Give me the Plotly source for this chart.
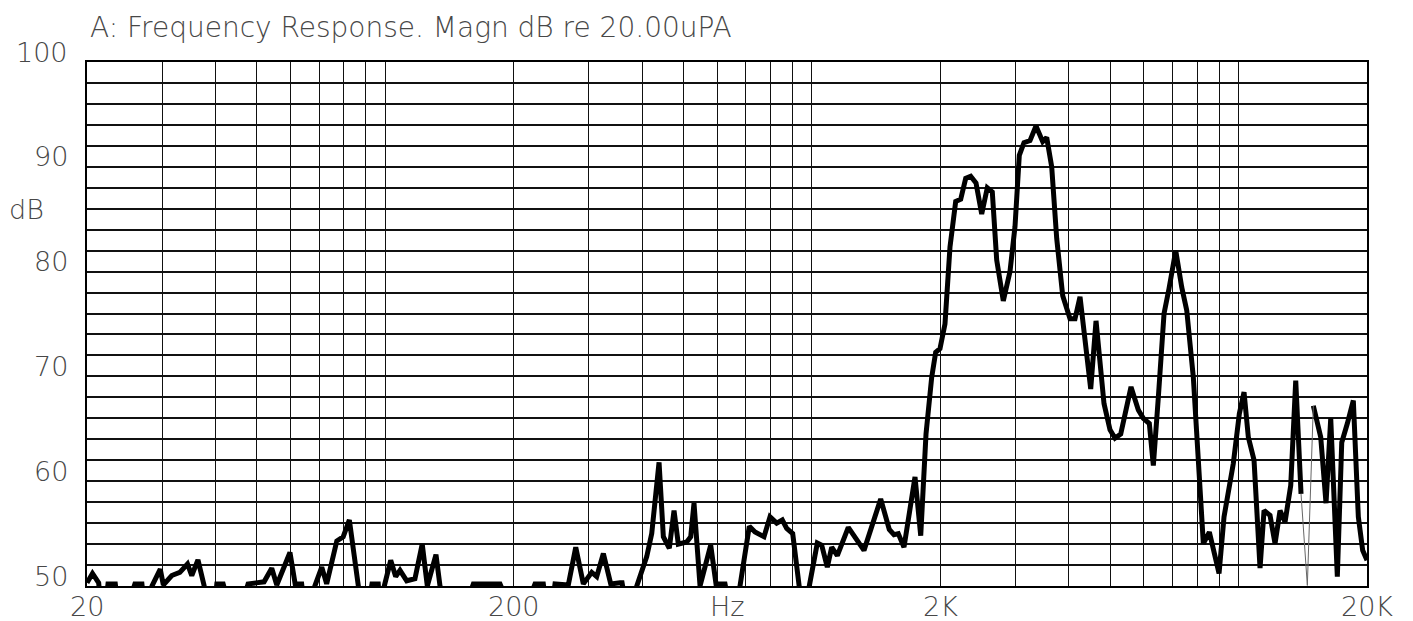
import math
import plotly.graph_objects as go

# Frequency (Hz) and level (dB re 20 uPa).
# Values below 50 dB fall outside the plotted range (as in the original plot).
freq_hz = [
    20.0, 20.6, 21.3, 21.8, 22.4, 23.3, 24.0, 25.9, 26.9, 27.6, 28.4, 29.7, 30.2, 31.6,
    33.0, 34.4, 35.2, 36.4, 37.6, 39.3, 40.3, 41.7, 44.5, 47.7, 49.8, 52.0, 54.2, 55.7,
    59.8, 61.5, 63.7, 65.5, 68.4, 71.0, 72.9, 77.0, 79.7, 82.4, 86.5, 89.5, 93.1, 96.3,
    97.8, 99.5, 103.0, 105.8, 108.3, 112.3, 117.4, 122.1, 125.5, 131.5, 134.4, 148.0,
    160.9, 172.3, 185.8, 205.0, 224.4, 234.7, 242.0, 250.0, 263.9, 268.6, 279.6, 291.3,
    304.8, 313.1, 324.5, 337.7, 355.1, 359.0, 375.0, 388.6, 410.1, 421.3, 438.3, 448.6,
    463.3, 475.2, 486.3, 508.9, 520.0, 529.3, 546.8, 579.2, 596.0, 625.7, 655.0, 678.4,
    713.3, 735.6, 772.3, 797.7, 827.0, 852.4, 872.9, 901.6, 937.9, 960.0, 986.1, 1029.7,
    1054.4, 1086.7, 1112.8, 1147.0, 1217.0, 1324.7, 1449.6, 1518.4, 1557.5, 1594.0,
    1643.8, 1744.5, 1799.1, 1851.2, 1908.6, 1950.3, 1996.2, 2050.8, 2107.0, 2172.8,
    2232.4, 2293.4, 2356.2, 2424.6, 2500.2, 2577.0, 2647.5, 2711.0, 2809.3, 2912.6,
    2992.4, 3062.6, 3141.2, 3244.8, 3351.6, 3475.0, 3550.8, 3648.0, 3748.0, 3871.4,
    4027.0, 4137.2, 4250.4, 4503.0, 4633.6, 4837.8, 4997.2, 5134.0, 5294.4, 5597.2,
    5822.0, 5981.4, 6178.4, 6313.0, 6485.8, 6688.8, 6872.0, 7124.8, 7359.4, 7560.6,
    7834.4, 8269.0, 8541.2, 9000.0, 9245.8, 9721.8, 10042, 10300, 10541, 10871, 11229,
    11474, 11851, 12175, 12508, 12850, 13252, 13614, 14009, None, 14971, 15581, 16033,
    16445, 17041, 17451, 17986, 18578, 19086, 19538, 20000,
]
level_db = [
    50.3, 51.2, 50.3, 46.0, 50.2, 50.2, 46.0, 50.2, 50.2, 46.0, 50.0, 51.6, 50.1, 51.0,
    51.3, 52.1, 51.0, 52.5, 50.1, 46.0, 50.2, 50.2, 46.0, 50.2, 50.3, 50.4, 51.7, 50.1,
    53.2, 50.2, 50.2, 46.0, 50.0, 51.8, 50.2, 54.3, 54.7, 56.3, 50.0, 46.0, 50.2, 50.2,
    46.0, 50.0, 52.45, 50.9, 51.5, 50.5, 50.7, 54.0, 50.0, 53.0, 50.0, 46.0,
    50.2, 50.2, 50.2, 46.0, 50.2, 50.2, 46.0, 50.2, 50.2, 50.1, 53.7, 50.2,
    51.3, 50.9, 53.1, 50.2, 50.3, 50.3, 46.0, 50.0, 52.8, 55.0, 61.8, 54.7,
    53.6, 57.2, 54.0, 54.2, 54.7, 57.9, 50.0, 53.9, 50.2, 50.2, 46.0, 50.0,
    55.7, 55.15, 54.7, 56.6, 56.0, 56.3, 55.5, 55.0, 50.0, 46.0, 50.0, 54.1,
    53.9, 51.8, 53.7, 52.9, 55.6, 53.4, 58.3, 55.4, 54.9, 55.0,
    53.7, 60.4, 54.8, 64.5, 69.9, 72.3, 72.65, 75.0, 82.35, 86.7,
    86.9, 88.9, 89.1, 88.45, 85.5, 88.0, 87.6, 81.1, 77.2, 80.0,
    84.3, 91.1, 92.3, 92.5, 93.9, 92.4, 92.8, 90.0, 83.15, 77.7,
    75.5, 75.5, 77.6, 68.8, 75.3, 67.4, 64.9, 64.1, 64.5, 69.0,
    66.8, 66.0, 65.5, 61.5, 68.0, 76.0, 78.4, 82.0, 78.5, 76.3,
    69.9, 54.05, 55.15, 51.2, 56.6, 61.7, 66.45, 68.5, 64.2, 62.0, 51.7,
    57.2, 56.75, 54.05, 57.2, 56.1, 59.6, 69.6, 58.8, None, 67.2, 64.2, 57.9,
    66.0, 50.9, 63.7, 65.5, 67.7, 56.6, 53.4, 52.45,
]

# thin (dropout) segment
dropout_hz = [14009, 14494, 14971]
dropout_db = [58.8, 50.05, 67.2]

# grid / tick definitions
f_min, f_max = 20, 20000
grid_freqs = [20, 30, 40, 50, 60, 70, 80, 90, 100,
              200, 300, 400, 500, 600, 700, 800, 900, 1000,
              2000, 3000, 4000, 5000, 6000, 7000, 8000, 9000, 10000, 20000]
freq_label_vals = [20, 200, 2000, 20000]
freq_label_text = ["20", "200", "2K", "20K"]
db_grid = list(range(50, 101, 2))
db_label_vals = [50, 60, 70, 80, 90, 100]
db_label_text = ["50", "60", "70", "80", "90", "100"]

title_text = "A: Frequency Response. Magn dB re 20.00uPA"
x_unit = "Hz"
x_unit_pos = 632
y_unit = "dB"

FONT = "DejaVu Sans"
TXT = "#474747"
W = 300

lo, hi = math.log10(f_min), math.log10(f_max)


def xfrac(f):
    """position of a frequency along the log axis, as a fraction of its length"""
    return (math.log10(f) - lo) / (hi - lo)


fig = go.Figure()
fig.add_trace(go.Scatter(
    x=freq_hz, y=level_db, mode="lines", connectgaps=False,
    line=dict(color="black", width=5), hoverinfo="skip", showlegend=False,
))
fig.add_trace(go.Scatter(
    x=dropout_hz, y=dropout_db, mode="lines",
    line=dict(color="#666666", width=1), hoverinfo="skip", showlegend=False,
))

annotations = [
    dict(text=title_text, xref="paper", yref="paper", x=0.0005, y=1.0,
         xanchor="left", yanchor="middle", yshift=35, showarrow=False,
         font=dict(family=FONT, size=28, color=TXT, weight=W)),
    dict(text=y_unit, xref="paper", yref="paper", x=-0.047, y=0.719,
         xanchor="center", yanchor="middle", showarrow=False,
         font=dict(family=FONT, size=27, color=TXT, weight=W)),
    dict(text=x_unit, xref="paper", yref="paper", x=xfrac(x_unit_pos), y=0,
         xanchor="center", yanchor="middle", yshift=-20, showarrow=False,
         font=dict(family=FONT, size=27, color=TXT, weight=W)),
]
for v, t in zip(freq_label_vals, freq_label_text):
    annotations.append(dict(text=t, xref="paper", yref="paper", x=xfrac(v), y=0,
                            xanchor="center", yanchor="middle", yshift=-20,
                            showarrow=False,
                            font=dict(family=FONT, size=27, color=TXT, weight=W)))
for v, t in zip(db_label_vals, db_label_text):
    annotations.append(dict(text=t, xref="paper", yref="y", x=-0.0132, y=v,
                            xanchor="right", yanchor="middle", yshift=10,
                            showarrow=False,
                            font=dict(family=FONT, size=27, color=TXT, weight=W)))

# page body keeps an 8px margin, so the figure is offset by it
fig.update_layout(
    width=1397, height=613,
    margin=dict(l=79, r=38, t=54, b=35),
    paper_bgcolor="white", plot_bgcolor="white",
    xaxis=dict(
        type="log", range=[lo, hi],
        tickmode="array", tickvals=grid_freqs, showticklabels=False,
        showgrid=True, gridcolor="#111111", gridwidth=1.3,
        ticks="", showline=True, linecolor="black", linewidth=1.5, mirror=True,
        zeroline=False, automargin=False,
    ),
    yaxis=dict(
        range=[50, 100], tickmode="array", tickvals=db_grid, showticklabels=False,
        showgrid=True, gridcolor="#111111", gridwidth=1.6,
        ticks="", showline=True, linecolor="black", linewidth=1.5, mirror=True,
        zeroline=False, automargin=False,
    ),
    annotations=annotations,
)

fig.write_html("out.html")
